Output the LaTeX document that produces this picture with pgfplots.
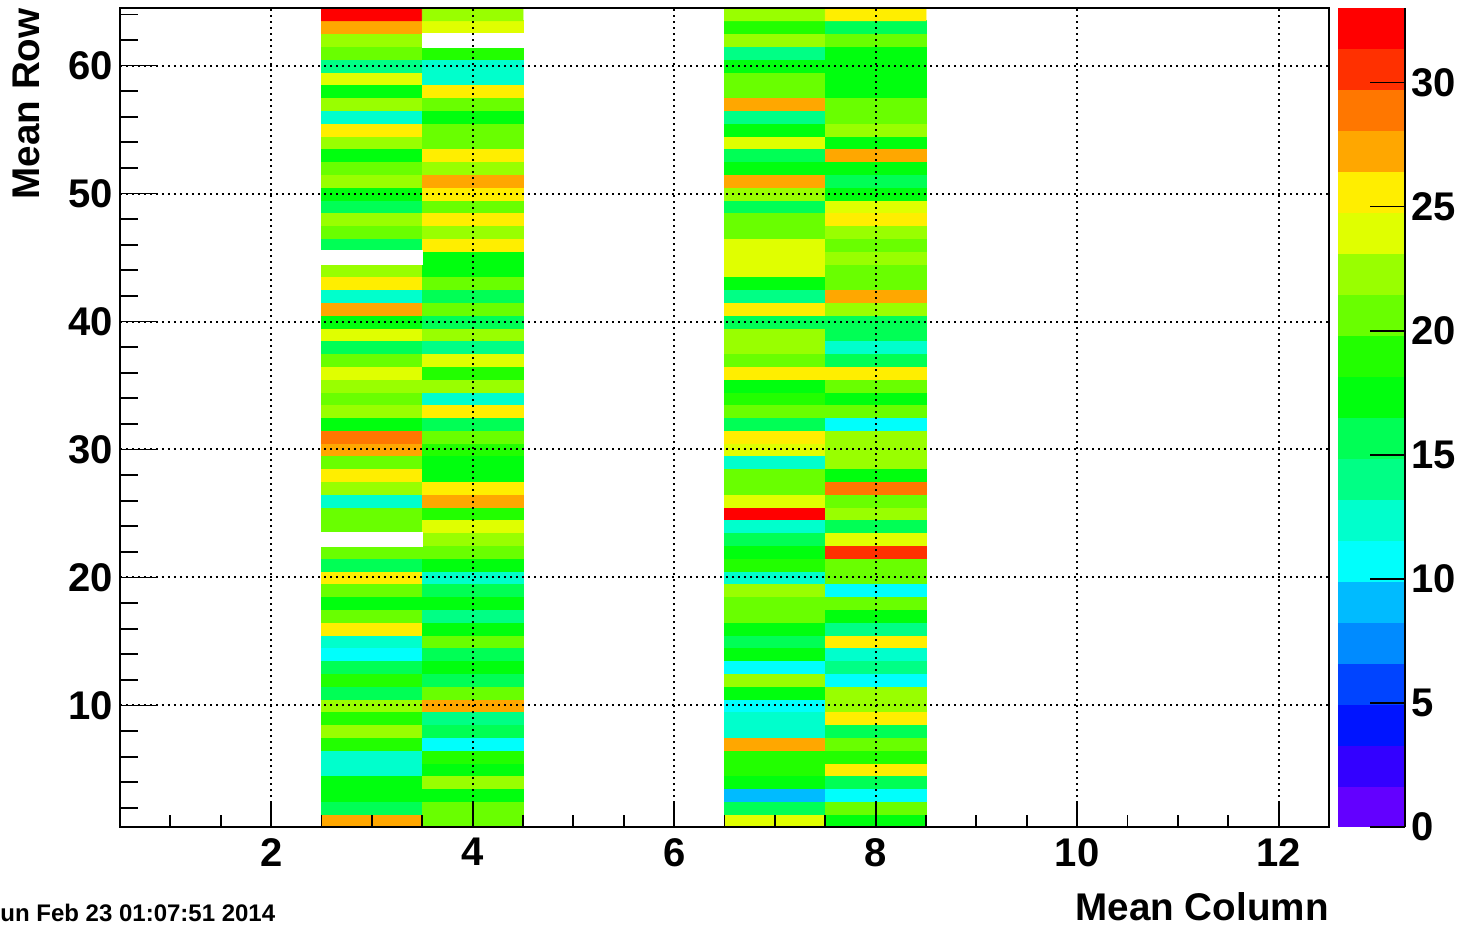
\documentclass[border=0pt]{standalone}
\usepackage{fontspec}
\setmainfont{Liberation Sans}
\usepackage{pgfplots}
\usepackage{pgfplotstable}
\pgfplotsset{compat=1.18}

% columns 3 and 4
\pgfplotstableread{
x y c
3 1 27
4 1 21
3 2 16
4 2 21
3 3 17
4 3 17
3 4 17
4 4 22
3 5 12
4 5 17
3 6 12
4 6 19
3 7 19
4 7 11
3 8 22
4 8 16
3 9 19
4 9 14
3 10 22
4 10 27
3 11 16
4 11 21
3 12 19
4 12 16
3 13 16
4 13 17
3 14 11
4 14 16
3 15 12
4 15 21
3 16 26
4 16 17
3 17 21
4 17 14
3 18 17
4 18 17
3 19 21
4 19 16
3 20 26
4 20 12
3 21 16
4 21 17
3 22 21
4 22 21
3 23 0
4 23 22
3 24 21
4 24 24
3 25 21
4 25 19
3 26 12
4 26 27
3 27 22
4 27 26
3 28 26
4 28 17
3 29 21
4 29 17
3 30 27
4 30 19
3 31 29
4 31 21
3 32 17
4 32 16
3 33 22
4 33 26
3 34 21
4 34 12
3 35 22
4 35 22
3 36 24
4 36 19
3 37 21
4 37 24
3 38 16
4 38 14
3 39 24
4 39 22
3 40 17
4 40 16
3 41 27
4 41 21
3 42 12
4 42 16
3 43 26
4 43 21
3 44 22
4 44 17
3 45 0
4 45 17
3 46 16
4 46 26
3 47 21
4 47 22
3 48 22
4 48 26
3 49 16
4 49 21
3 50 17
4 50 26
3 51 22
4 51 27
3 52 21
4 52 22
3 53 17
4 53 26
3 54 22
4 54 21
3 55 26
4 55 21
3 56 12
4 56 17
3 57 22
4 57 21
3 58 17
4 58 26
3 59 24
4 59 12
3 60 14
4 60 12
3 61 21
4 61 19
3 62 22
4 62 0
3 63 27
4 63 24
3 64 32
4 64 22
}\pairA

% columns 7 and 8
\pgfplotstableread{
x y c
7 1 24
8 1 17
7 2 16
8 2 21
7 3 9
8 3 11
7 4 17
8 4 16
7 5 19
8 5 26
7 6 19
8 6 19
7 7 27
8 7 21
7 8 12
8 8 16
7 9 12
8 9 26
7 10 11
8 10 22
7 11 17
8 11 22
7 12 22
8 12 11
7 13 11
8 13 14
7 14 17
8 14 12
7 15 16
8 15 26
7 16 17
8 16 14
7 17 21
8 17 17
7 18 21
8 18 21
7 19 22
8 19 11
7 20 12
8 20 21
7 21 19
8 21 21
7 22 17
8 22 30
7 23 16
8 23 24
7 24 12
8 24 16
7 25 32
8 25 22
7 26 24
8 26 21
7 27 21
8 27 29
7 28 21
8 28 17
7 29 12
8 29 22
7 30 24
8 30 22
7 31 26
8 31 22
7 32 16
8 32 11
7 33 21
8 33 21
7 34 19
8 34 17
7 35 17
8 35 21
7 36 26
8 36 26
7 37 21
8 37 16
7 38 22
8 38 12
7 39 22
8 39 16
7 40 16
8 40 16
7 41 26
8 41 22
7 42 14
8 42 27
7 43 17
8 43 21
7 44 24
8 44 21
7 45 24
8 45 22
7 46 24
8 46 21
7 47 21
8 47 22
7 48 21
8 48 26
7 49 16
8 49 24
7 50 22
8 50 17
7 51 27
8 51 16
7 52 17
8 52 17
7 53 16
8 53 27
7 54 24
8 54 17
7 55 17
8 55 22
7 56 14
8 56 21
7 57 27
8 57 21
7 58 21
8 58 17
7 59 21
8 59 17
7 60 17
8 60 17
7 61 14
8 61 17
7 62 22
8 62 21
7 63 19
8 63 16
7 64 22
8 64 26
}\pairB

\begin{document}
\begin{tikzpicture}
\useasboundingbox (0,0) rectangle (730.5pt,463.5pt);
\begin{axis}[
  at={(60pt,50pt)}, anchor=south west,
  scale only axis, width=604.5pt, height=409.5pt,
  xmin=0.5, xmax=12.5, ymin=0.5, ymax=64.5,
  axis on top,
  colormap={root}{rgb255=(99,0,255) rgb255=(51,0,255) rgb255=(0,20,255) rgb255=(0,68,255) rgb255=(0,139,255) rgb255=(0,187,255) rgb255=(0,255,252) rgb255=(0,255,204) rgb255=(0,255,133) rgb255=(0,255,85) rgb255=(0,255,14) rgb255=(34,255,0) rgb255=(105,255,0) rgb255=(153,255,0) rgb255=(224,255,0) rgb255=(255,238,0) rgb255=(255,167,0) rgb255=(255,119,0) rgb255=(255,48,0) rgb255=(255,0,0)},
  colormap access=piecewise constant,
  point meta min=0, point meta max=33,
  xtick={2,4,...,12}, ytick={10,20,...,60},
  minor xtick={1,1.5,...,12},
  xtick pos=left, ytick pos=left,
  tick align=inside,
  major tick length=12.3pt, minor tick length=6pt,
  xtick style={black, line width=0.9pt},
  ytick style={draw=none},
  xmajorgrids, ymajorgrids,
  major grid style={black, line width=1pt, dash pattern=on 1pt off 2pt},
  axis line style={black, line width=1pt},
  /pgf/number format/assume math mode=true,
  tick label style={font=\bfseries\fontsize{20}{24}\selectfont},
  xticklabel style={inner sep=0pt, yshift=-5.5pt},
  yticklabel style={inner sep=0pt, xshift=-3.5pt},
  xlabel={Mean Column}, ylabel={Mean Row},
  label style={font=\bfseries\fontsize{19.3}{23}\selectfont},
  xlabel style={at={(axis description cs:1,-0.1136)}, anchor=base east, inner sep=0pt},
  ylabel style={at={(axis description cs:-0.0662,1)}, anchor=south east, inner sep=0pt},
  colorbar,
  colorbar shift/.style={xshift=4.5pt},
  colorbar style={
    at={(parent axis.north east)}, anchor=north west,
    scale only axis, width=33.5pt,
    ytick={0,5,...,30}, ytick pos=right, yticklabel pos=right,
    tick align=inside, major tick length=17.5pt,
    ytick style={black, line width=0.9pt},
    axis line style={draw=none},
    /pgf/number format/assume math mode=true,
    yticklabel style={font=\bfseries\fontsize{20}{24}\selectfont, inner sep=0pt, xshift=3pt},
    extra description/.code={\draw[black, line width=1pt] (rel axis cs:1,0) -- (rel axis cs:1,1);},
  },
]
\addplot[matrix plot*, mesh/cols=2, point meta=explicit] table[x=x, y=y, meta=c] {\pairA};
\addplot[matrix plot*, mesh/cols=2, point meta=explicit] table[x=x, y=y, meta=c] {\pairB};
% empty bins
\addplot[fill=white, draw=white, line width=0.4pt] coordinates {(2.49,22.45) (3.5,22.45) (3.5,23.55) (2.49,23.55)};
\addplot[fill=white, draw=white, line width=0.4pt] coordinates {(2.49,44.43) (3.5,44.43) (3.5,45.55) (2.49,45.55)};
\addplot[fill=white, draw=white, line width=0.4pt] coordinates {(3.5,61.45) (4.51,61.45) (4.51,62.55) (3.5,62.55)};
\end{axis}
\begin{axis}[
  at={(60pt,50pt)}, anchor=south west,
  scale only axis, width=604.5pt, height=409.5pt,
  xmin=0.5, xmax=12.5, ymin=0.5, ymax=64.5,
  xtick=\empty, ytick={10,20,...,60}, yticklabels={},
  minor ytick={2,4,...,64},
  ytick pos=left, tick align=inside,
  major tick length=18pt, minor tick length=9pt,
  ytick style={black, line width=0.9pt},
  axis line style={black, line width=1pt},
]
\end{axis}
\node[anchor=base west, inner sep=0pt, font=\bfseries\fontsize{12}{14}\selectfont] at (0pt,3pt) {un Feb 23 01:07:51 2014};
\end{tikzpicture}
\end{document}
